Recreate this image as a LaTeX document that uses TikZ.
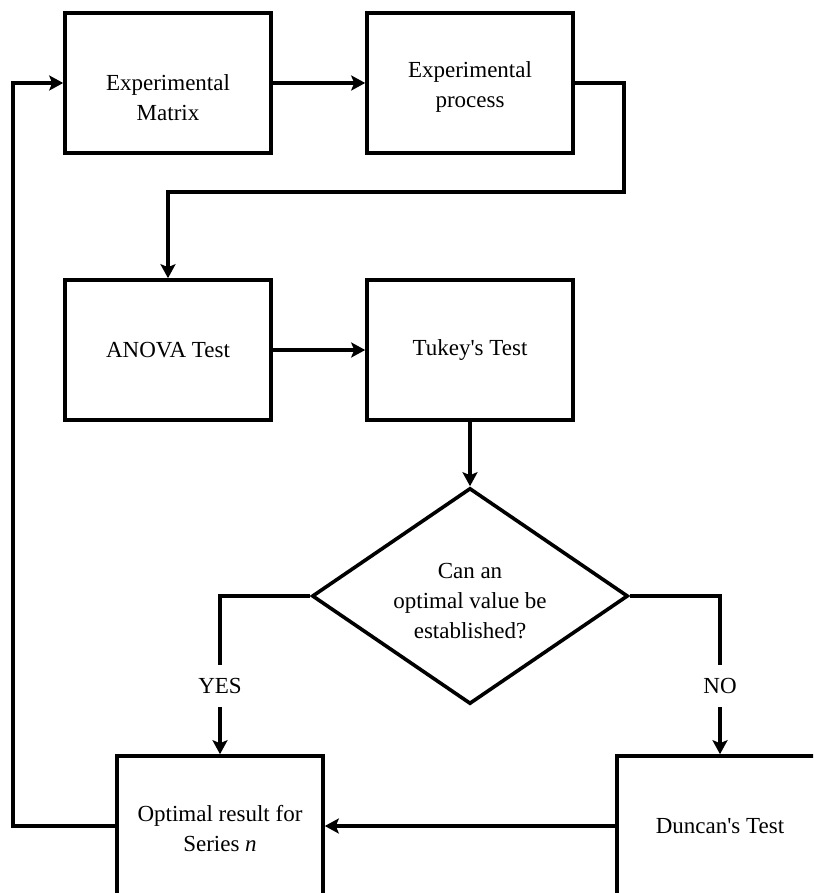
\documentclass[tikz,border=0pt]{standalone}
\usepackage{fontspec}
\setmainfont{Liberation Serif}
\usetikzlibrary{arrows.meta,shapes.geometric}
\begin{document}
\begin{tikzpicture}[x=1pt,y=-1pt,
  line width=3.6pt, line join=miter,
  boxnode/.style={draw, rectangle, minimum width=206pt, minimum height=140pt, inner sep=0pt},
  decnode/.style={draw, diamond, minimum width=316pt, minimum height=216pt, inner sep=0pt},
  txt/.style={align=center, font=\fontsize{23}{30}\selectfont, inner sep=0pt},
  lbl/.style={font=\fontsize{23}{30}\selectfont, inner sep=0pt, minimum height=38pt},
  arr/.style={-{Stealth[length=14pt,width=15pt,inset=3pt]}}
]
\useasboundingbox (0,0) rectangle (813,893);
\fill[white] (0,0) rectangle (813,893);
\clip (0,0) rectangle (813,893);

\node[boxnode] (mat) at (168,83) {};
\node[boxnode] (proc) at (470,83) {};
\node[boxnode] (anova) at (168,350) {};
\node[boxnode] (tukey) at (470,350) {};
\node[decnode] (dec) at (470,596) {};
\node[boxnode] (opt) at (220,826) {};
\node[boxnode] (dun) at (720,826) {};

\node[txt] (tmat) at (168,98) {Experimental\\Matrix};
\node[txt] (tproc) at (470,87) {Experimental\\process};
\node[txt] (tanova) at (168,350) {ANOVA Test};
\node[txt] (ttukey) at (470,350) {Tukey\textquotesingle s Test};
\node[txt] (tdec) at (470,601) {Can an\\optimal value be\\established?};
\node[txt] (topt) at (220,829) {Optimal result for\\Series \textit{n}};
\node[txt] (tdun) at (720,826) {Duncan\textquotesingle s Test};

\node[lbl] (yes) at (220,686) {YES};
\node[lbl] (no) at (720,686) {NO};

\coordinate (c1) at (624,192);
\coordinate (c2) at (13,83);

\draw[arr] (mat.east) -- (proc.west);
\draw[arr] (proc.east) -| (c1) -| (anova.north);
\draw[arr] (anova.east) -- (tukey.west);
\draw[arr] (tukey.south) -- (dec.north);
\draw (dec.west) -| (yes.north);
\draw[arr] (yes.south) -- (opt.north);
\draw (dec.east) -| (no.north);
\draw[arr] (no.south) -- (dun.north);
\draw[arr] (dun.west) -- (opt.east);
\draw[arr] (opt.west) -| (c2) -- (mat.west);
\end{tikzpicture}
\end{document}
